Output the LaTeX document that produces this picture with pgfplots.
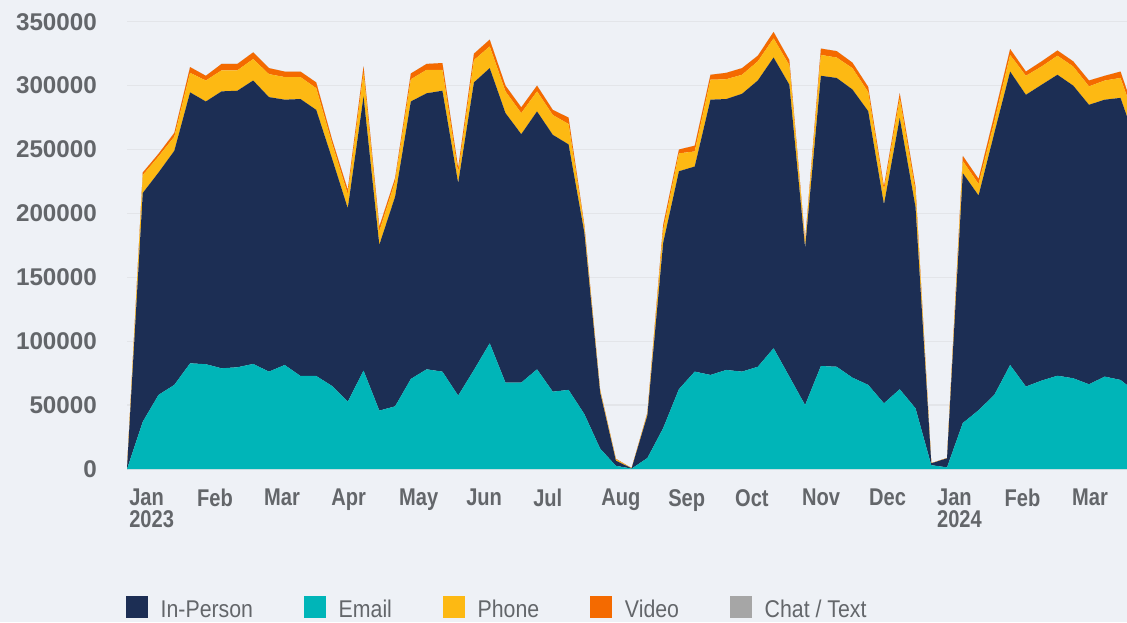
\documentclass[border=0pt]{standalone}
\usepackage{pgfplots}
\usepackage{pgfplotstable}
\usepackage{fontspec}
\pgfplotsset{compat=1.18}
\setmainfont{Liberation Sans}
\newfontfamily\lblfont{Liberation Sans}[FakeStretch=0.83]
\newfontfamily\numfont{Liberation Sans}
\newfontfamily\legfont{Liberation Sans}[FakeStretch=0.88]

\definecolor{bgc}{HTML}{EEF1F6}
\definecolor{gridc}{HTML}{E3E5E9}
\definecolor{txtc}{HTML}{63666A}
\definecolor{navy}{HTML}{1C2E54}
\definecolor{tealc}{HTML}{00B5B8}
\definecolor{phonec}{HTML}{FDB913}
\definecolor{videoc}{HTML}{F46A00}
\definecolor{chatc}{HTML}{A6A6A6}

% weekly contacts, k = week index from start of Jan 2023
\pgfplotstableread{
k  email inperson phone video chat
0  0     0       0     0    0
1  37000 179000 14000 2000 0
2  58000 174000 12600 2100 0
3  65800 183200 11000 3000 0
4  82700 212000 15300 4500 0
5  82000 205600 16400 3700 0
6  78800 216700 16500 5000 0
7  79600 216400 16000 5000 0
8  82200 221800 16800 5200 0
9  76200 214800 18000 4700 0
10 81400 207600 17700 4300 0
11 72800 216700 17200 4300 0
12 72800 208200 17000 4500 0
13 65000 178000 12000 3000 0
14 52700 151300 11000 3500 0
15 77000 214500 18500 5000 0
16 45700 129700 10600 3700 0
17 49000 164000 12000 2600 0
18 70500 217100 17400 4500 0
19 78000 216000 18400 4600 0
20 76200 219800 16400 5300 0
21 57400 166300 7900 4000 0
22 77500 225000 17500 5000 0
23 98400 215300 17000 5300 0
24 67600 210900 17000 4500 0
25 67600 194400 16500 4500 0
26 78000 201800 15700 4500 0
27 60500 201000 15500 4000 0
28 61900 192100 16000 5000 0
29 43000 142000 4000 2000 0
30 16000 44000 1500 500 0
31 2500 4000 1100 400 0
32 300 200 100 100 0
33 8600 33400 1500 500 0
34 32000 145000 10000 4000 0
35 62500 170500 14000 3000 0
36 76200 160500 11800 4500 0
37 73600 215400 15600 3900 0
38 77500 212000 15500 5000 0
39 76200 217400 14900 5200 0
40 80000 224000 15000 4400 0
41 94500 227500 15000 5000 0
42 72300 228400 15300 4000 0
43 50000 123000 4000 1500 0
44 80600 227100 16300 5000 0
45 80000 226000 16000 5000 0
46 71500 225500 16700 4300 0
47 65800 214200 15000 4000 0
48 51400 155600 11000 3000 0
49 62400 212200 15400 4000 0
50 47500 157500 12000 4000 0
51 3000 1400 100 100 0
52 1300 7100 100 100 0
53 36000 195500 9500 4000 0
54 46000 168000 9000 4000 0
55 58000 205000 9000 5000 0
56 81400 229600 13000 4600 0
57 64500 228300 14900 3300 0
58 69200 231500 14300 4000 0
59 73000 235500 14900 4100 0
60 71000 229000 15000 4000 0
61 66300 218700 14400 4600 0
62 72300 216700 15000 3700 0
63 69700 220700 15600 5000 0
64 60000 195000 16000 4000 0
}\weekly

\begin{document}
\begin{tikzpicture}
\path[use as bounding box, fill=bgc] (0,0) rectangle (1127pt,622pt);
\begin{axis}[
    at={(127pt,153pt)}, anchor=south west,
    scale only axis,
    width=1000pt, height=469pt,
    xmin=0, xmax=63.41,
    ymin=0, ymax=367000,
    stack plots=y,
    axis line style={draw=none},
    major tick length=0pt,
    ymajorgrids,
    grid style={line width=1.3pt, gridc},
    ytick={0,50000,100000,150000,200000,250000,300000,350000},
    yticklabels={0,50000,100000,150000,200000,250000,300000,350000},
    yticklabel style={font=\numfont\bfseries\fontsize{24.2pt}{29pt}\selectfont, text=txtc, anchor=east, inner sep=0pt, xshift=-30pt},
    xtick={0.13,4.44,8.69,12.94,17.25,21.5,25.75,30.06,34.31,38.55,42.8,47.05,51.36,55.64,59.92},
    xticklabels={Jan\\2023,Feb,Mar,Apr,May,Jun,Jul,Aug,Sep,Oct,Nov,Dec,Jan\\2024,Feb,Mar},
    xticklabel style={font=\lblfont\bfseries\fontsize{24.2pt}{22pt}\selectfont, text=txtc, anchor=north west, align=left, inner sep=0pt, yshift=-20pt},
    legend columns=5,
    legend image code/.code={\fill[#1] (0pt,-8.3pt) rectangle (22pt,13.7pt);},
    legend style={at={(axis description cs:0,0)}, anchor=north west, xshift=-1pt, yshift=-127pt,
        draw=none, fill=none, inner sep=0pt, outer sep=0pt,
        font=\legfont\fontsize{24.2pt}{29pt}\selectfont, text=txtc,
        nodes={inner sep=0pt},
        /tikz/every odd column/.append style={column sep=12.7pt},
        /tikz/every even column/.append style={column sep=51pt}},
    legend cell align=left,
]
\addplot[forget plot, fill=tealc, draw=none] table[x=k, y=email] {\weekly} \closedcycle;
\addplot[forget plot, fill=navy, draw=none] table[x=k, y=inperson] {\weekly} \closedcycle;
\addplot[forget plot, fill=phonec, draw=none] table[x=k, y=phone] {\weekly} \closedcycle;
\addplot[forget plot, fill=videoc, draw=none] table[x=k, y=video] {\weekly} \closedcycle;
\addplot[forget plot, fill=chatc, draw=none] table[x=k, y=chat] {\weekly} \closedcycle;
\addlegendimage{fill=navy, draw=none}
\addlegendentry{In-Person}
\addlegendimage{fill=tealc, draw=none}
\addlegendentry{Email}
\addlegendimage{fill=phonec, draw=none}
\addlegendentry{Phone}
\addlegendimage{fill=videoc, draw=none}
\addlegendentry{Video}
\addlegendimage{fill=chatc, draw=none}
\addlegendentry{Chat / Text}
\end{axis}
\end{tikzpicture}
\end{document}
